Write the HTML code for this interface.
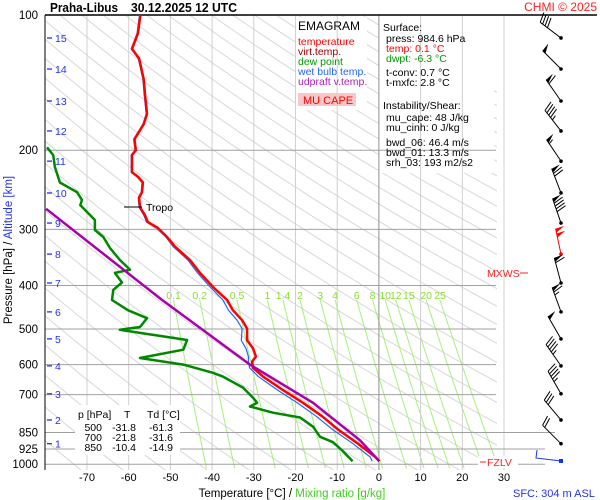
<!DOCTYPE html>
<html><head><meta charset="utf-8"><style>
html,body{margin:0;padding:0;background:#fff;}
svg{display:block;font-family:"Liberation Sans",sans-serif;}
</style></head><body>
<svg id="c" width="600" height="500" viewBox="0 0 600 500">
<rect x="0" y="0" width="600" height="500" fill="#fff"/>
<defs><clipPath id="pc"><rect x="45" y="15" width="452" height="455"/></clipPath></defs>
<g id="adiabats" clip-path="url(#pc)"></g>
<g id="mixing"></g>
<rect x="295" y="17" width="72" height="93" fill="#fff"/>
<rect x="379" y="17" width="115" height="156" fill="#fff"/>
<g id="grid"></g>
<g id="series"></g>
<g id="winds"></g>

<text x="50" y="12" font-size="12.5" font-weight="bold" textLength="68" lengthAdjust="spacingAndGlyphs">Praha-Libus</text>
<text x="131" y="12" font-size="12.5" font-weight="bold" textLength="106" lengthAdjust="spacingAndGlyphs">30.12.2025 12 UTC</text>
<text x="597" y="11" font-size="12" fill="#ff2020" text-anchor="end">CHMI © 2025</text>

<g font-size="10.5">
<text x="298" y="30" font-size="12" fill="#000">EMAGRAM</text>
<text x="298" y="45" fill="#ff0000">temperature</text>
<text x="298" y="55" fill="#a00000">virt.temp.</text>
<text x="298" y="65" fill="#009900">dew point</text>
<text x="298" y="75" fill="#2266ff">wet bulb temp.</text>
<text x="298" y="85" fill="#aa22bb">udpraft v.temp.</text>
<rect x="298" y="93" width="58" height="13" fill="#f8c8c8"/>
<text x="303" y="104" font-size="11" fill="#ff0000">MU CAPE</text>
</g>

<g font-size="10.5" fill="#000">
<text x="383" y="31">Surface:</text>
<text x="386" y="42">press: 984.6 hPa</text>
<text x="386" y="52" fill="#ff0000">temp: 0.1 °C</text>
<text x="386" y="62" fill="#009900">dwpt: -6.3 °C</text>
<text x="386" y="76">t-conv: 0.7 °C</text>
<text x="386" y="86">t-mxfc: 2.8 °C</text>
<text x="383" y="109">Instability/Shear:</text>
<text x="386" y="121">mu_cape: 48 J/kg</text>
<text x="386" y="131">mu_cinh: 0 J/kg</text>
<text x="386" y="146">bwd_06: 46.4 m/s</text>
<text x="386" y="156">bwd_01: 13.3 m/s</text>
<text x="386" y="166">srh_03: 193 m2/s2</text>
</g>

<g font-size="10.5">
<rect x="75" y="405" width="105" height="50" fill="#fff"/>
<text x="78" y="418">p [hPa]</text><text x="124" y="418">T</text><text x="147" y="418">Td [°C]</text>
<text x="102" y="431" text-anchor="end">500</text><text x="136" y="431" text-anchor="end">-31.8</text><text x="173" y="431" text-anchor="end">-61.3</text>
<text x="102" y="441" text-anchor="end">700</text><text x="136" y="441" text-anchor="end">-21.8</text><text x="173" y="441" text-anchor="end">-31.6</text>
<text x="102" y="451" text-anchor="end">850</text><text x="136" y="451" text-anchor="end">-10.4</text><text x="173" y="451" text-anchor="end">-14.9</text>
</g>

<text x="292" y="497" font-size="11.5" text-anchor="middle"><tspan fill="#000">Temperature [°C]  /  </tspan><tspan fill="#44cc22">Mixing ratio [g/kg]</tspan></text>
<text x="513" y="497" font-size="11" fill="#2233ee">SFC: 304 m ASL</text>
<text transform="translate(12,250) rotate(-90)" font-size="11.5" text-anchor="middle"><tspan fill="#000">Pressure [hPa]  /  </tspan><tspan fill="#2233ee">Altitude [km]</tspan></text>

<line x1="124" y1="207" x2="142" y2="207" stroke="#000" stroke-width="1"/>
<text x="146" y="211" font-size="10.5">Tropo</text>
<text x="487" y="277" font-size="10.5" fill="#ff2020">MXWS</text>
<line x1="520" y1="273" x2="528" y2="273" stroke="#ff2020"/>
<rect x="478" y="456" width="40" height="12" fill="#fff"/>
<line x1="480" y1="462" x2="486" y2="462" stroke="#ff2020"/>
<text x="487" y="466" font-size="10.5" fill="#ff2020">FZLV</text>
</svg>
<script>
var pLevels=[100,200,300,400,500,600,700,850,925,1000];
var tTicks=[-70,-60,-50,-40,-30,-20,-10,0,10,20,30];
var altKm=[15,14,13,12,11,10,9,8,7,6,5,4,3,2,1];
var altP=[112.5,131.9,155.4,181.2,211.5,249,290.5,340.6,395,458,526,604,697,797,900];
var tempP=[100,110,119,125,139,150,166,175,189,200,205,224,229,236,248,255,268,279,289,298,312,328,351,375,403,431,454,478,499,530,552,576,591,610,638,684,730,782,837,896,963,984.6];
var tempT=[-57.2,-57.8,-59.2,-57.5,-56.4,-56.1,-55.6,-56.4,-58.6,-58.3,-59.2,-59.2,-57.8,-56.6,-56.8,-57.5,-57.3,-56.1,-55.4,-53.0,-50.8,-48.9,-45.3,-42.9,-39.8,-36.4,-35.0,-32.8,-31.6,-31.6,-30.2,-29.5,-30.4,-30.2,-27.8,-23.0,-18.2,-13.6,-9.8,-5.3,-0.9,0.1];
var wetT=[-57.4,-58.0,-59.4,-57.7,-56.6,-56.3,-55.8,-56.6,-58.8,-58.5,-59.4,-59.4,-58.0,-56.8,-57.0,-57.7,-57.5,-56.4,-55.7,-53.3,-51.1,-49.3,-45.8,-43.5,-40.5,-37.4,-36.1,-34.0,-32.8,-33.0,-31.9,-31.3,-31.3,-31.0,-28.9,-24.3,-19.6,-15.0,-11.1,-6.5,-2.1,-1.6];
var dewP=[197,205,218,236,248,258,265,286,301,312,330,351,369,375,394,409,431,454,473,495,502,510,529,556,580,600,626,638,675,711,730,744,768,787,825,869,893,932,984.6];
var dewT=[-79.6,-78.1,-77.7,-76.5,-72.4,-71.2,-71.6,-68.1,-68.1,-66.1,-64.5,-62.1,-59.7,-63.3,-61.6,-63.7,-64.0,-60.2,-55.6,-57.3,-62.1,-57.3,-46.0,-46.9,-57.3,-46.9,-39.8,-37.4,-32.6,-30.2,-29.2,-30.9,-25.4,-18.9,-15.8,-14.1,-11.0,-8.8,-6.3];
var parcelP=[270,431,600,730,885,984.6];
var parcelT=[-79.8,-52.0,-30.9,-15.8,-4.5,0.1];
var mixW=[0.1,0.2,0.5,1,1.4,2,3,4,6,8,10,12,15,20,25];
var windDir=[307,315,325,322,326,339,341,348,345,340,330,325,330,320,315];
var windSpd=[40,50,60,45,55,70,90,100,60,65,50,45,45,30,20];

var NS='http://www.w3.org/2000/svg';
function yP(p){return 15+195.1*Math.log(p/100);}
function xT(t){return 378.9+t*4.17;}
function mk(tag,attrs,parent){var e=document.createElementNS(NS,tag);for(var k in attrs)e.setAttribute(k,attrs[k]);parent.appendChild(e);return e;}
function pathFrom(ps,ts){var d='';for(var i=0;i<ps.length;i++){d+=(i?'L':'M')+xT(ts[i]).toFixed(1)+' '+yP(ps[i]).toFixed(1);}return d;}

var ad=document.getElementById('adiabats');
for(var th=200;th<=520;th+=10){
  var d='';
  for(var p=90;p<=1040;p+=10){var t=th*Math.pow(p/1000,0.286)-273.15;d+=(p==90?'M':'L')+xT(t).toFixed(1)+' '+yP(p).toFixed(1);}
  var a=mk('path',{d:d,fill:'none',stroke:'#d8d8d8','stroke-width':'1'},ad);
  
  
}
var mg=document.getElementById('mixing');
function tdFromE(e){var l=Math.log(e/6.112);return 243.5*l/(17.67-l);}
mixW.forEach(function(w){
  var d='';var first=true;
  for(var p=431;p<=1030;p+=10){var e=w*p/(622+w);var t=tdFromE(e);d+=(first?'M':'L')+xT(t).toFixed(1)+' '+yP(p).toFixed(1);first=false;}
  var m=mk('path',{d:d,fill:'none',stroke:'#a6f07a','stroke-width':'1'},mg);
  
  
  var e0=w*431/(622+w);
  var lb=mk('text',{x:xT(tdFromE(e0)).toFixed(1),y:299,'font-size':'10.5',fill:'#88dd33','text-anchor':'middle'},mg);
  lb.textContent=String(w);
  
  
});
var g=document.getElementById('grid');
tTicks.forEach(function(t){
  var v=mk('line',{x1:xT(t),x2:xT(t),y1:15,y2:470,stroke:t===0?'#909090':'#d0d0d0','stroke-width':'1'},g);
  
  
  var lb=mk('text',{x:xT(t),y:481,'font-size':'11','text-anchor':'middle'},g);
  lb.textContent=String(t);
  
  
});
pLevels.forEach(function(p){
  var xe=p==850?555:(p>=925?545:496);
  if(p==100){xe=597;}
  var h=mk('line',{x1:45,x2:xe,y1:yP(p),y2:yP(p),stroke:p==100?'#000':'#a0a0a0','stroke-width':p==100?'1.5':'1'},g);
  
  
  var lb=mk('text',{x:38,y:yP(p)+4,'font-size':'11.5','text-anchor':'end'},g);
  lb.textContent=String(p);
  
  
});
var ax=mk('line',{x1:45,x2:45,y1:15,y2:470,stroke:'#000','stroke-width':'1'},g);


altKm.forEach(function(k,i){
  var y=yP(altP[i]);
  var t=mk('line',{x1:47,x2:52,y1:y,y2:y,stroke:'#2233ee','stroke-width':'1.3'},g);
  
  
  var lb=mk('text',{x:55,y:y+4,'font-size':'10.5',fill:'#2233ee'},g);
  lb.textContent=String(k);
  
  
});
var s=document.getElementById('series');
var dw=mk('path',{d:pathFrom(dewP,dewT),fill:'none',stroke:'#008800','stroke-width':'2.5','stroke-linejoin':'round'},s);


var wb=mk('path',{d:pathFrom(tempP,wetT),fill:'none',stroke:'#2266ff','stroke-width':'1.2'},s);


var tp=mk('path',{d:pathFrom(tempP,tempT),fill:'none',stroke:'#ff0000','stroke-width':'2.5','stroke-linejoin':'round'},s);


var pc=mk('path',{d:pathFrom(parcelP,parcelT),fill:'none',stroke:'#aa00aa','stroke-width':'2.5','clip-path':'url(#pc)'},s);


var wg=document.getElementById('winds');
function barb(x0,y0,dir,spd,col){
  var r=dir*Math.PI/180;var ux=Math.sin(r),uy=-Math.cos(r);
  var vx=-uy,vy=ux;var L=26;
  var gg=mk('g',{},wg);
  
  
  mk('line',{x1:x0,y1:y0,x2:x0+ux*L,y2:y0+uy*L,stroke:col,'stroke-width':'1'},gg);
  mk('circle',{cx:x0,cy:y0,r:1.8,fill:col},gg);
  var pos=L;var sp=Math.round(spd/5)*5;
  while(sp>=50){var bx=x0+ux*pos,by=y0+uy*pos;
    mk('polygon',{points:bx+','+by+' '+(bx+vx*9+ux*1)+','+(by+vy*9+uy*1)+' '+(bx-ux*4)+','+(by-uy*4),fill:col},gg);
    pos-=5;sp-=50;}
  while(sp>=10){var bx=x0+ux*pos,by=y0+uy*pos;
    mk('line',{x1:bx,y1:by,x2:bx+vx*10+ux*3,y2:by+vy*10+uy*3,stroke:col,'stroke-width':'1'},gg);pos-=3;sp-=10;}
  if(sp>=5){var bx=x0+ux*pos,by=y0+uy*pos;
    mk('line',{x1:bx,y1:by,x2:bx+vx*5+ux*1.5,y2:by+vy*5+uy*1.5,stroke:col,'stroke-width':'1'},gg);}
}
altKm.forEach(function(k,i){barb(561,yP(altP[i]),windDir[i],windSpd[i],k===8?'#ff0000':'#000');});
var sf=mk('path',{d:'M561 461 L536 458 L537 450',fill:'none',stroke:'#1133ee','stroke-width':'1'},wg);


var sd=mk('rect',{x:559,y:459,width:4,height:4,fill:'#1133ee'},wg);


</script>
</body></html>
